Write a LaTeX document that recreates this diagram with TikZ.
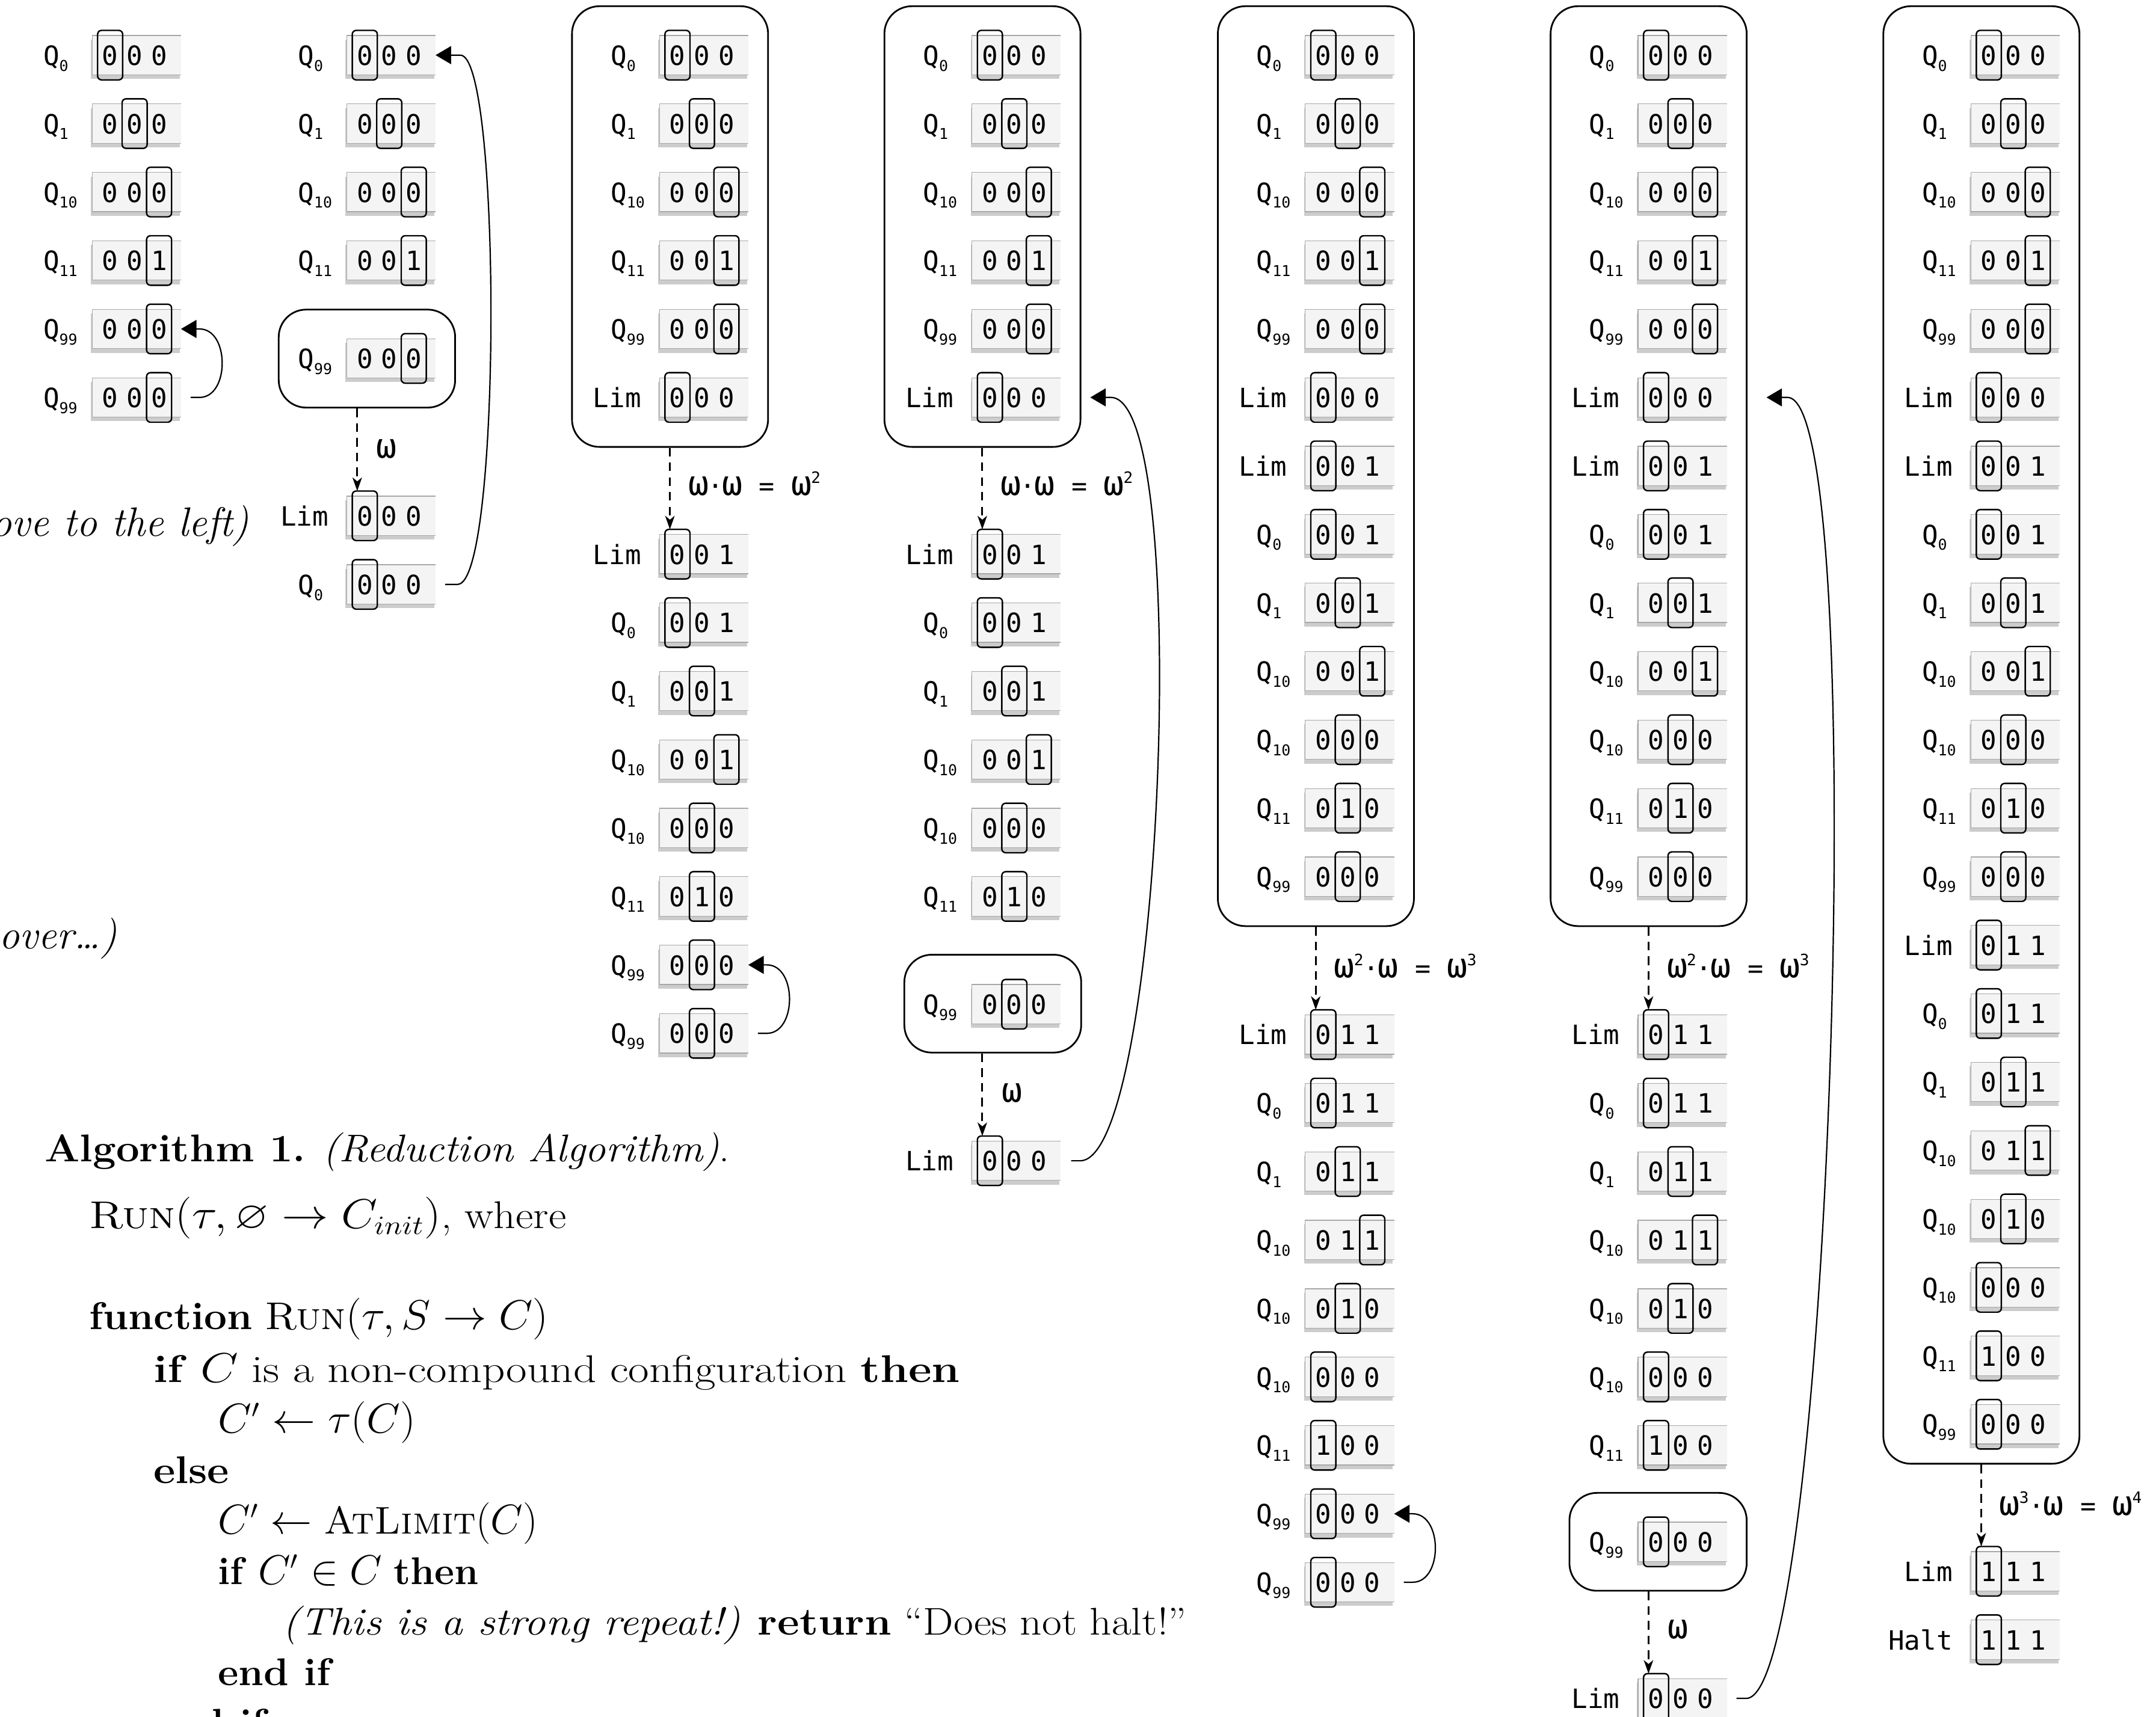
\documentclass[tikz,border=0pt]{standalone}
\usepackage{fontspec}
\usepackage{amssymb}
\usepackage{graphicx}
\usetikzlibrary{arrows.meta,fit,calc}
\newfontfamily\tapefont{DejaVu Sans Mono}
\definecolor{tfillc}{HTML}{F4F4F4}
\definecolor{tborderc}{HTML}{A8A8A8}
\definecolor{tshadowc}{HTML}{CCCCCC}
\tikzset{
  tshadow/.style={fill=tshadowc},
  tfill/.style={fill=tfillc},
  tborder/.style={draw=tborderc, line width=0.3pt},
  dig/.style={anchor=base, inner sep=0pt, font=\tapefont\fontsize{11}{11}\selectfont},
  lab/.style={inner sep=0pt, font=\tapefont\fontsize{11}{11}\selectfont},
  headbox/.style={draw=black, line width=0.6pt, rounded corners=1.6pt},
  cbox/.style={draw=black, line width=0.7pt, rounded corners=0.4cm, inner sep=0pt},
  lbl/.style={anchor=base west, inner sep=0pt, font=\tapefont\fontsize{10.8}{10.8}\selectfont},
  loopar/.style={line width=0.55pt, -{Triangle[length=6.4pt,width=7.4pt]}},
  dasharr/.style={line width=0.75pt, dash pattern=on 3.6pt off 2.5pt, -{Stealth[length=5.6pt,width=3.9pt,inset=1.6pt]}},
  alg/.style={anchor=base west, inner sep=0pt, font=\fontsize{16}{19}\selectfont},
  cuttext/.style={anchor=base east, inner sep=0pt, font=\fontsize{17}{20}\selectfont\itshape},
}
\newcommand\qsub[1]{\raisebox{-2.4pt}{\fontsize{6.2}{6.2}\selectfont #1}}
\newcommand\om{\makebox[7.65pt]{\scalebox{1.3}{ω}}}
\newcommand\sups[1]{\makebox[4.25pt]{\raisebox{5pt}{\fontsize{6.5}{6.5}\selectfont #1}}}
\newcommand\mdot{\makebox[6.24pt]{·}}
\newcommand\msp{\hspace*{7.37pt}}
\newcommand\meq{\makebox[6.24pt]{=}}
\newcommand\wide[2]{\scalebox{#1}[1]{#2}}
% #1 name, #2 tape left x, #3 row y, #4-#6 digits, #7 head index
\newcommand\tapebase[7]{%
  \fill[tshadow] (#2-0.9,#3-11.3) rectangle (#2+63.7,#3+17.3);
  \fill[tfill] (#2,#3-14.3) rectangle (#2+64.6,#3+14.3);
  \draw[tborder] (#2+64.6,#3-14.3) -- (#2,#3-14.3) -- (#2,#3+14.3) -- (#2+64.6,#3+14.3);
  \node[dig] (#1x) at (#2+13.1,#3+7.3) {#4};
  \node[dig] (#1y) at (#2+30.9,#3+7.3) {#5};
  \node[dig] (#1z) at (#2+48.7,#3+7.3) {#6};
  \draw[headbox] (#2-13.8+17.8*#7,#3-18) rectangle (#2+4.4+17.8*#7,#3+18);
  \coordinate (#1r) at (#2+64.6,#3);
  \coordinate (#1in) at (#2+7.6,#3-18);
}
\newcommand\qrow[8]{\tapebase{#1}{#2}{#3}{#4}{#5}{#6}{#7}%
  \node[lab,anchor=base west] (#1l) at (#2-35.8,#3+7.3) {Q\qsub{#8}};}
\newcommand\wrow[8]{\tapebase{#1}{#2}{#3}{#4}{#5}{#6}{#7}%
  \node[lab,anchor=base east] (#1l) at (#2-13,#3+7.3) {#8};}
\newcommand\gfour[3]{%
  \qrow{#1a}{#2}{#3}{0}{0}{0}{1}{0}
  \qrow{#1b}{#2}{#3+49.8}{0}{0}{0}{2}{1}
  \qrow{#1c}{#2}{#3+99.6}{0}{0}{0}{3}{10}
  \qrow{#1d}{#2}{#3+149.4}{0}{0}{1}{3}{11}}
\newcommand\topblock[2]{%
  \gfour{#1}{#2}{40.1}
  \qrow{#1e}{#2}{239.3}{0}{0}{0}{3}{99}
  \wrow{#1f}{#2}{289.1}{0}{0}{0}{1}{Lim}}
\newcommand\gsix[3]{%
  \wrow{#1a}{#2}{#3}{0}{0}{1}{1}{Lim}
  \qrow{#1b}{#2}{#3+49.8}{0}{0}{1}{1}{0}
  \qrow{#1c}{#2}{#3+99.6}{0}{0}{1}{2}{1}
  \qrow{#1d}{#2}{#3+149.4}{0}{0}{1}{3}{10}
  \qrow{#1e}{#2}{#3+199.2}{0}{0}{0}{2}{10}
  \qrow{#1f}{#2}{#3+249}{0}{1}{0}{2}{11}}
\newcommand\gseven[3]{%
  \wrow{#1a}{#2}{#3}{0}{1}{1}{1}{Lim}
  \qrow{#1b}{#2}{#3+49.8}{0}{1}{1}{1}{0}
  \qrow{#1c}{#2}{#3+99.6}{0}{1}{1}{2}{1}
  \qrow{#1d}{#2}{#3+149.4}{0}{1}{1}{3}{10}
  \qrow{#1e}{#2}{#3+199.2}{0}{1}{0}{2}{10}
  \qrow{#1f}{#2}{#3+249}{0}{0}{0}{1}{10}
  \qrow{#1g}{#2}{#3+298.8}{1}{0}{0}{1}{11}}
\begin{document}
\begin{tikzpicture}[x=0.02cm,y=-0.02cm]
\useasboundingbox (0,0) rectangle (1568,1249);
% ---------------- Column A
\gfour{A}{67}{40.1}
\qrow{Ae}{67}{239.3}{0}{0}{0}{3}{99}
\qrow{Af}{67}{289.1}{0}{0}{0}{3}{99}
\draw[loopar] ($(Afr)+(7,0)$) -- ($(Afr)+(13.5,0)$) .. controls ($(Afr)+(35.5,0)$) and ($(Aer)+(35.5,0)$) .. ($(Aer)+(13.5,0)$) -- (Aer);
% ---------------- Column B
\gfour{B}{252.2}{40.1}
\qrow{Be}{252.2}{260.7}{0}{0}{0}{3}{99}
\node[cbox, fit={(202.7,225.2) (331,296.5)}] (sbB) {};
\wrow{Bf}{252.2}{375.2}{0}{0}{0}{1}{Lim}
\qrow{Bg}{252.2}{425.1}{0}{0}{0}{1}{0}
\draw[dasharr] (sbB.south -| Bfin) -- (Bfin);
\node[lbl] (Bw) at (274.2,333) {\om};
\draw[loopar] ($(Bgr)+(7,0)$) -- ($(Bgr)+(16,0)$) .. controls ($(Bgr)+(48,0)$) and ($(Bar)+(48,0)$) .. ($(Bar)+(18,0)$) -- (Bar);
% ---------------- Column C
\topblock{C}{479.6}
\node[cbox, fit={(416,4.5) (558.6,325.1)}] (box1) {};
\gsix{Cg}{479.6}{403.1}
\qrow{Ch}{479.6}{701.9}{0}{0}{0}{2}{99}
\qrow{Ci}{479.6}{751.7}{0}{0}{0}{2}{99}
\draw[dasharr] (box1.south -| Cgain) -- (Cgain);
\node[lbl] (Cw) at (501.1,360.2) {\om\mdot\om\msp\meq\msp\om\sups{2}};
\draw[loopar] ($(Cir)+(7,0)$) -- ($(Cir)+(13.5,0)$) .. controls ($(Cir)+(35.5,0)$) and ($(Chr)+(35.5,0)$) .. ($(Chr)+(13.5,0)$) -- (Chr);
% ---------------- Column D
\topblock{D}{706.8}
\node[cbox, fit={(643.2,4.5) (785.8,325.1)}] (box2) {};
\gsix{Dg}{706.8}{403.1}
\qrow{Dh}{706.8}{730.5}{0}{0}{0}{2}{99}
\node[cbox, fit={(657.7,694.5) (786.3,765.7)}] (sbD) {};
\wrow{Di}{706.8}{844.4}{0}{0}{0}{1}{Lim}
\draw[dasharr] (box2.south -| Dgain) -- (Dgain);
\node[lbl] (Dw) at (728.3,360.2) {\om\mdot\om\msp\meq\msp\om\sups{2}};
\draw[dasharr] (sbD.south -| Diin) -- (Diin);
\node[lbl] (Dw2) at (728.8,801.7) {\om};
\coordinate (Dtip) at ($(box2.east |- Dfr)+(6.5,0)$);
\draw[loopar] ($(Dir)+(7.6,0)$) -- ($(Dir)+(14.2,0)$) .. controls ($(Dir)+(74.2,0)$) and ($(Dtip)+(75,0)$) .. ($(Dtip)+(15,0)$) -- (Dtip);
% ---------------- Column E
\topblock{E}{949.3}
\node[cbox, fit={(885.7,4.5) (1028.3,673.7)}] (box3) {};
\gsix{Eg}{949.3}{338.9}
\qrow{Eh}{949.3}{637.7}{0}{0}{0}{2}{99}
\gseven{Ei}{949.3}{752.6}
\qrow{Ej}{949.3}{1101.2}{0}{0}{0}{1}{99}
\qrow{Ek}{949.3}{1151}{0}{0}{0}{1}{99}
\draw[dasharr] (box3.south -| Eiain) -- (Eiain);
\node[lbl] (Ew) at (970.7,711) {\om\sups{2}\mdot\om\msp\meq\msp\om\sups{3}};
\draw[loopar] ($(Ekr)+(7,0)$) -- ($(Ekr)+(13.5,0)$) .. controls ($(Ekr)+(35.5,0)$) and ($(Ejr)+(35.5,0)$) .. ($(Ejr)+(13.5,0)$) -- (Ejr);
% ---------------- Column F
\topblock{F}{1191.3}
\node[cbox, fit={(1127.7,4.5) (1270.3,673.7)}] (box4) {};
\gsix{Fg}{1191.3}{338.9}
\qrow{Fh}{1191.3}{637.7}{0}{0}{0}{2}{99}
\gseven{Fi}{1191.3}{752.6}
\qrow{Fj}{1191.3}{1121.6}{0}{0}{0}{1}{99}
\node[cbox, fit={(1141.4,1086) (1270.3,1157.2)}] (sbF) {};
\wrow{Fk}{1191.3}{1235.5}{0}{0}{0}{1}{Lim}
\draw[dasharr] (box4.south -| Fiain) -- (Fiain);
\node[lbl] (Fw) at (1212.7,711) {\om\sups{2}\mdot\om\msp\meq\msp\om\sups{3}};
\draw[dasharr] (sbF.south -| Fkin) -- (Fkin);
\node[lbl] (Fw2) at (1213.3,1192.1) {\om};
\coordinate (Ftip) at ($(box4.east |- Ffr)+(13.8,0)$);
\draw[loopar] ($(Fkr)+(7,0)$) -- ($(Fkr)+(14.1,0)$) .. controls ($(Fkr)+(76,0)$) and ($(Ftip)+(77,0)$) .. ($(Ftip)+(15.3,0)$) -- (Ftip);
% ---------------- Column G
\topblock{G}{1433.3}
\node[cbox, fit={(1369.7,4.5) (1512.3,1064.8)}] (box5) {};
\gsix{Gg}{1433.3}{338.9}
\qrow{Gh}{1433.3}{637.7}{0}{0}{0}{2}{99}
\gseven{Gi}{1433.3}{687.5}
\qrow{Gj}{1433.3}{1036.1}{0}{0}{0}{1}{99}
\wrow{Gk}{1433.3}{1143}{1}{1}{1}{1}{Lim}
\wrow{Gl}{1433.3}{1192.8}{1}{1}{1}{1}{Halt}
\draw[dasharr] (box5.south -| Gkin) -- (Gkin);
\node[lbl] (Gw) at (1454.5,1102.3) {\om\sups{3}\mdot\om\msp\meq\msp\om\sups{4}};
% ---------------- cut-off texts
\node[cuttext] (ct1) at (181.5,390) {ove to the left)};
\node[cuttext] (ct2) at (85.5,690) {over\ldots)};
% ---------------- algorithm
\node[alg] (al0) at (32.2,845) {\wide{1.07}{\textbf{Algorithm 1.} \textit{(Reduction Algorithm)}.}};
\node[alg] (al1) at (64.4,893.5) {\wide{1.12}{\textsc{Run}$(\tau, \varnothing \rightarrow C_{init})$, where}};
\node[alg] (al2) at (64.4,967.1) {\wide{1.05}{\textbf{function} \textsc{Run}$(\tau, S \rightarrow C)$}};
\node[alg] (al3) at (111.3,1005.4) {\wide{1.17}{\textbf{if} $C$ is a non-compound configuration \textbf{then}}};
\node[alg] (al4) at (158.2,1042.2) {\wide{1.04}{$C' \leftarrow \tau(C)$}};
\node[alg] (al5) at (111.3,1079) {\wide{1.1}{\textbf{else}}};
\node[alg] (al6) at (158.2,1115.8) {$C' \leftarrow{}$\textsc{AtLimit}$(C)$};
\node[alg] (al7) at (158.2,1152.5) {\textbf{if} $C' \in C$ \textbf{then}};
\node[alg] (al8) at (205.1,1189.4) {\wide{1.11}{\textit{(This is a strong repeat!)} \textbf{return} “Does not halt!”}};
\node[alg] (al9) at (158.2,1226.2) {\wide{1.04}{\textbf{end if}}};
\node[alg] (al10) at (111.3,1263) {\wide{1.04}{\textbf{end if}}};
\end{tikzpicture}
\end{document}
